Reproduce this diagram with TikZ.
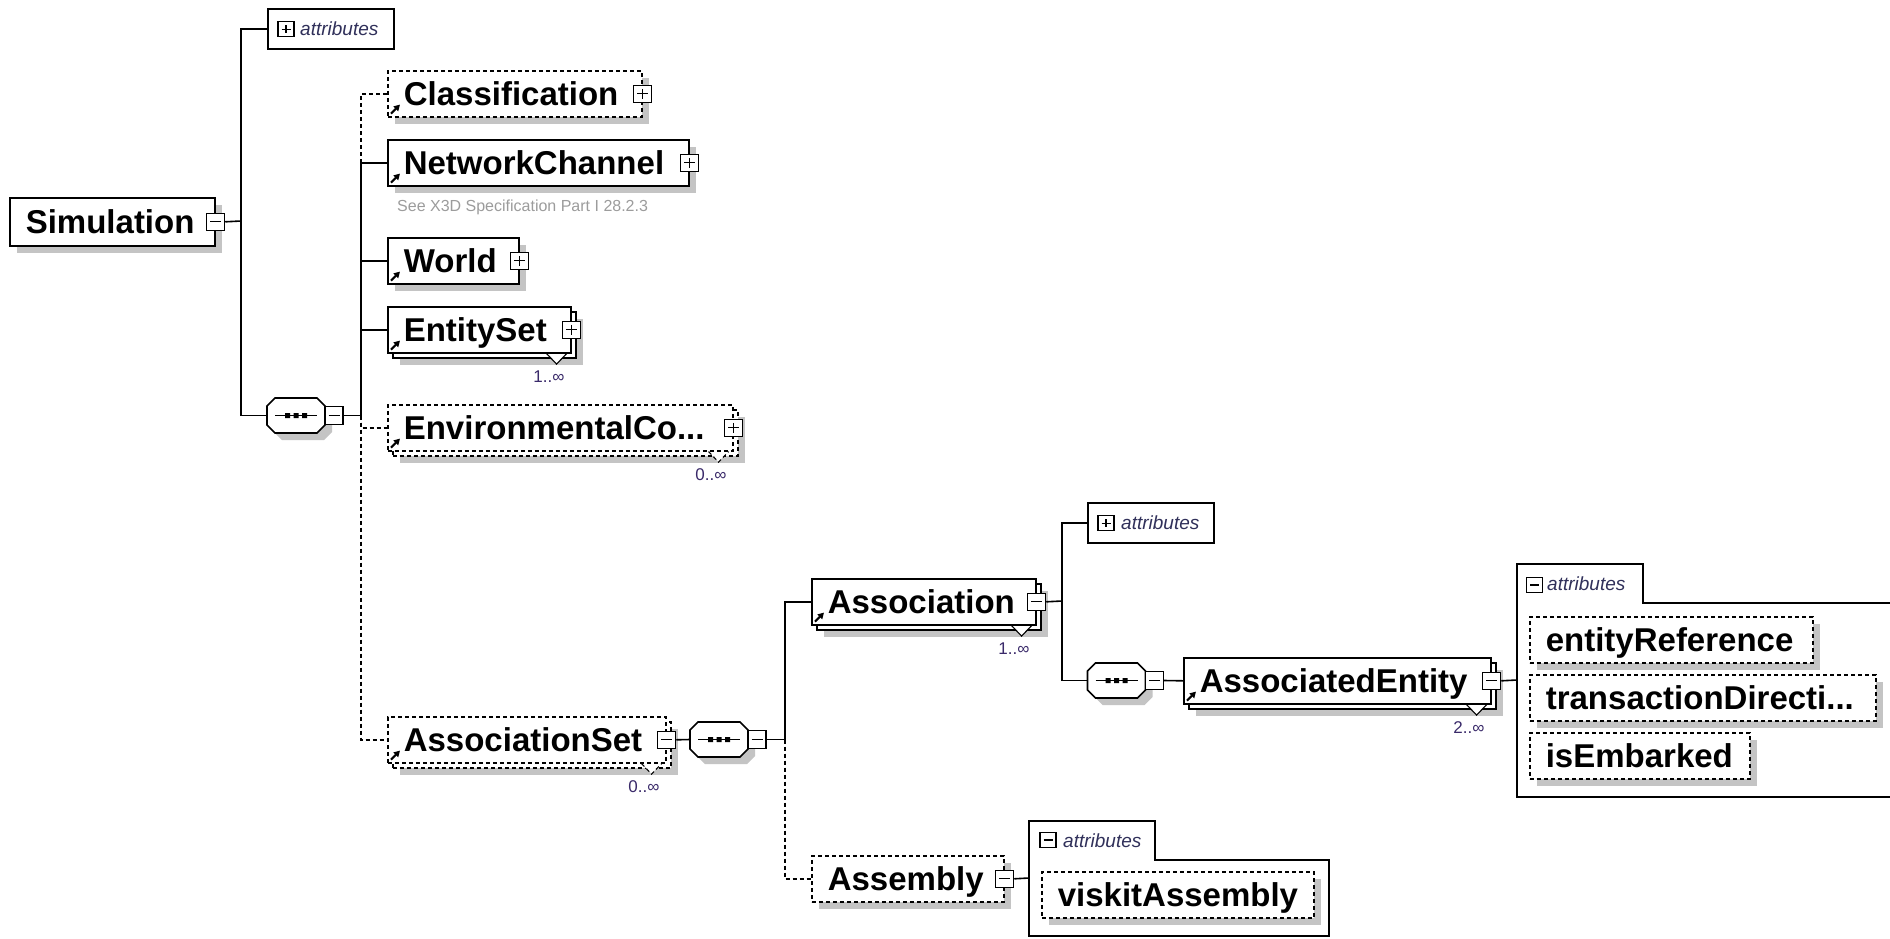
\documentclass[tikz,border=0pt]{standalone}
\usepackage{fontspec}
\setmainfont{Liberation Sans}
\usetikzlibrary{calc,arrows.meta,shadows}
\definecolor{shadowc}{HTML}{C4C4C4}
\definecolor{attrc}{HTML}{30305A}
\definecolor{multc}{HTML}{3A2A6A}
\definecolor{notec}{HTML}{9C9C9C}
\tikzset{
  conn/.style={line width=1.6pt},
  dconn/.style={line width=1.6pt, dash pattern=on 4pt off 3pt},
  opt/.style={dash pattern=on 4pt off 3pt},
  shad/.style={drop shadow={shadow xshift=7pt,shadow yshift=-7pt,fill=shadowc,opacity=1}},
  elem/.style={draw, fill=white, line width=1.6pt, anchor=north west, inner xsep=16pt, inner ysep=0pt,
    align=left, text height=24pt, text depth=0pt, minimum height=46pt,
    font=\bfseries\fontsize{33}{38}\selectfont, text width=#1},
  backbox/.style={draw, fill=white, line width=1.6pt, anchor=north west, inner sep=0pt,
    minimum height=46pt, minimum width=#1},
  attrbox/.style={draw, line width=1.6pt, anchor=north west, inner sep=0pt, minimum height=40pt, minimum width=126pt},
  attrtxt/.style={anchor=west, inner sep=0pt, text=attrc, font=\itshape\fontsize{19}{22}\selectfont},
  mult/.style={anchor=east, inner sep=0pt, text=multc, font=\fontsize{17}{20}\selectfont},
  note/.style={anchor=west, inner sep=0pt, text=notec, font=\fontsize{16}{19}\selectfont},
  grp/.style={line width=1.6pt},
  refarrow/.style={line width=2pt, -{Triangle[length=6pt,width=6.5pt]}},
  pmbase/.style={draw, fill=white, line width=1.3pt, minimum width=18pt, minimum height=17pt, inner sep=0pt},
  minus/.style={pmbase, path picture={\draw[line width=1.3pt]
      ($(path picture bounding box.west)+(3.5,0)$) -- ($(path picture bounding box.east)+(-3.5,0)$);}},
  plus/.style={pmbase, path picture={\draw[line width=1.3pt]
      ($(path picture bounding box.west)+(3.5,0)$) -- ($(path picture bounding box.east)+(-3.5,0)$)
      ($(path picture bounding box.north)+(0,3.5)$) -- ($(path picture bounding box.south)+(0,-3.5)$);}},
  smallpm/.style={minimum width=16pt, minimum height=15pt},
  seqpic/.pic={
    \fill[shadowc] (-14,-10.5) -- (28,-10.5) -- (36,-2.5) -- (36,16.5) -- (28,24.5) -- (-14,24.5) -- (-22,16.5) -- (-22,-2.5) -- cycle;
    \draw[line width=1.6pt, fill=white] (-21,-17.5) -- (21,-17.5) -- (29,-9.5) -- (29,9.5) -- (21,17.5) -- (-21,17.5) -- (-29,9.5) -- (-29,-9.5) -- cycle;
    \draw[line width=1.4pt] (-21,0) -- (21,0);
    \fill (-11,-2.5) rectangle (-6,2.5) (-2.5,-2.5) rectangle (2.5,2.5) (6,-2.5) rectangle (11,2.5);
    \node[inner sep=0pt, minimum width=58pt, minimum height=35pt] (-o) at (0,0) {};
    \node[minus, minimum width=18pt, minimum height=18pt] (-m) at (38,0) {};
  }
}
\newcommand\refmark[1]{\draw[refarrow] ($(#1.south west)+(4,-4)$) -- ++(9,-9);}
\newcommand\multmark[4]{%
  \fill[white] ($(#1.south east)+(-24,1)$) -- ($(#1.south east)+(-15,10)$) -- ($(#1.south east)+(-6,1)$) -- cycle;
  \draw[line width=1.1pt,#2] ($(#1.south east)+(-25,0)$) -- ($(#1.south east)+(-15,10.5)$) -- ($(#1.south east)+(-5,0)$);
  \node[mult] (#3) at ($(#1.south east)+(-7,23)$) {#4};
}
\begin{document}
\begin{tikzpicture}[x=1pt,y=-1pt]
\useasboundingbox (0,0) rectangle (1890,938);
\clip (0,0) rectangle (1890,938);
\fill[white] (0,0) rectangle (1890,938);

% ---------- Simulation ----------
\node[elem=173pt, minimum height=48pt, shad] (sim) at (9,197) {Simulation};
\node[minus] (simM) at (sim.east) {};

% top attributes
\node[attrbox] (attrA) at (267,8) {};
\node[plus, smallpm] (attrAP) at ($(attrA.west)+(19,0.5)$) {};
\node[attrtxt] (attrAT) at ($(attrA.west)+(33,0)$) {attributes};

% sequence 1
\pic (seqA) at (296,415.5) {seqpic};

% ---------- children of Simulation ----------
\node[elem=222pt, opt, shad] (classif) at (387,70) {Classification};
\node[plus] (classifP) at (classif.east) {};
\refmark{classif}

\node[elem=269pt, shad] (netch) at (387,139) {NetworkChannel};
\node[plus] (netchP) at (netch.east) {};
\refmark{netch}
\node[note] (netchN) at ($(netch.south west)+(10,21)$) {See X3D Specification Part I 28.2.3};

\node[elem=99pt, shad] (world) at (387,237) {World};
\node[plus] (worldP) at (world.east) {};
\refmark{world}

\node[backbox=183pt, shad] (entsetB) at (392,311) {};
\node[elem=151pt] (entset) at (387,306) {EntitySet};
\node[plus] (entsetP) at (entset.east) {};
\refmark{entset}
\multmark{entset}{}{entsetN}{1..∞}

\node[backbox=345pt, opt, shad] (envcoB) at (392,409) {};
\node[elem=313pt, opt] (envco) at (387,404) {EnvironmentalCo...};
\node[plus] (envcoP) at (envco.east) {};
\refmark{envco}
\multmark{envco}{opt}{envcoN}{0..∞}

\node[backbox=278pt, opt, shad] (asetB) at (392,721) {};
\node[elem=246pt, opt] (aset) at (387,716) {AssociationSet};
\node[minus] (asetM) at (aset.east) {};
\refmark{aset}
\multmark{aset}{opt}{asetN}{0..∞}

% sequence 2
\pic (seqB) at (719,739.5) {seqpic};

% ---------- Association ----------
\node[backbox=224pt, shad] (assocB) at (816,583) {};
\node[elem=192pt] (assoc) at (811,578) {Association};
\node[minus] (assocM) at (assoc.east) {};
\refmark{assoc}
\multmark{assoc}{}{assocN}{1..∞}

\node[attrbox] (attrB) at (1087,502) {};
\node[plus, smallpm] (attrBP) at ($(attrB.west)+(19,0.5)$) {};
\node[attrtxt] (attrBT) at ($(attrB.west)+(34,0)$) {attributes};

% sequence 3
\pic (seqC) at (1116.5,680.5) {seqpic};

\node[backbox=307pt, shad] (aentB) at (1188,662) {};
\node[elem=275pt] (aent) at (1183,657) {AssociatedEntity};
\node[minus] (aentM) at (aent.east) {};
\refmark{aent}
\multmark{aent}{}{aentN}{2..∞}

% attributes group of AssociatedEntity
\draw[grp] (1517,564) -- (1643,564) -- (1643,603) -- (1893,603) -- (1893,797) -- (1517,797) -- cycle;
\coordinate (g1) at (1517,680);
\node[minus, smallpm] (g1M) at (1534.5,585) {};
\node[attrtxt] (g1T) at (1547,584) {attributes};
\node[elem=251pt, opt, shad] (eref) at (1529,616) {entityReference};
\node[elem=314pt, opt, shad] (tdir) at (1529,674) {transactionDirecti...};
\node[elem=188pt, opt, shad] (emb) at (1529,732) {isEmbarked};

% ---------- Assembly ----------
\node[elem=160pt, opt, shad] (asm) at (811,855) {Assembly};
\node[minus] (asmM) at (asm.east) {};

\draw[grp] (1029,821) -- (1155,821) -- (1155,860) -- (1329,860) -- (1329,936) -- (1029,936) -- cycle;
\coordinate (g2) at (1029,878);
\node[minus, smallpm] (g2M) at (1048,840) {};
\node[attrtxt] (g2T) at (1063,841) {attributes};
\node[elem=240pt, opt, shad] (visk) at (1041,871) {viskitAssembly};

% ---------- connectors ----------
\coordinate (j1) at (241,221);
\draw[conn] (simM.east) -- (j1);
\draw[conn] (j1) |- (attrA.west);
\draw[conn] (j1) |- (seqA-o.west);

\coordinate (j2) at (361,415.5);
\draw[conn] (seqA-m.east) -- (j2);
\draw[conn] (j2) |- (netch.west);
\draw[conn] (j2) |- (world.west);
\draw[conn] (j2) |- (entset.west);
\draw[dconn] (j2 |- netch.west) |- (classif.west);
\draw[dconn] (j2) |- (envco.west);
\draw[dconn] (j2) |- (aset.west);

\draw[conn] (asetM.east) -- (seqB-o.west);
\coordinate (j3) at (785,739.5);
\draw[conn] (seqB-m.east) -- (j3);
\draw[conn] (j3) |- (assoc.west);
\draw[dconn] (j3) |- (asm.west);

\coordinate (j4) at (1062,601);
\draw[conn] (assocM.east) -- (j4);
\draw[conn] (j4) |- (attrB.west);
\draw[conn] (j4) |- (seqC-o.west);
\draw[conn] (seqC-m.east) -- (aent.west);
\draw[conn] (aentM.east) -- (g1);
\draw[conn] (asmM.east) -- (g2);
\end{tikzpicture}
\end{document}
